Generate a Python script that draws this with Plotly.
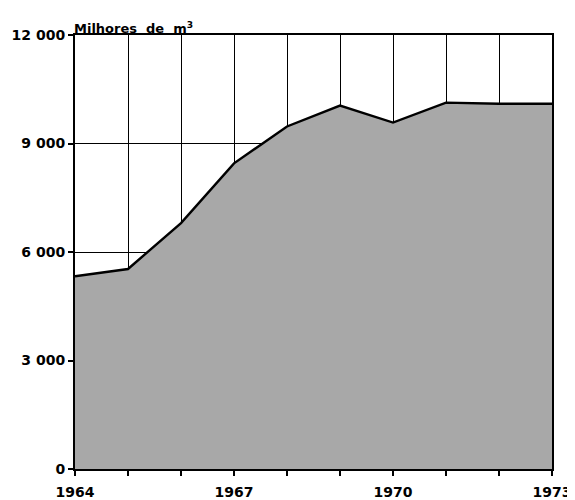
import plotly.graph_objects as go

years = [1964, 1965, 1966, 1967, 1968, 1969, 1970, 1971, 1972, 1973]
values = [5330, 5530, 6800, 8450, 9470, 10050, 9580, 10130, 10100, 10100]

x_tick_vals = [1964, 1967, 1970, 1973]
x_tick_text = ["1964", "1967", "1970", "1973"]
y_tick_vals = [0, 3000, 6000, 9000, 12000]
y_tick_text = ["0", "3 000", "6 000", "9 000", "12 000"]

FAM = "DejaVu Sans, Verdana, sans-serif"
tfont = dict(family=FAM, size=14, color="black", weight="bold")

# page body has ~8px default margin; compensate so the plot area lands where the reference has it
OFF = 8

fig = go.Figure()
fig.add_trace(go.Scatter(
    x=years, y=values, mode="lines", fill="tozeroy",
    fillcolor="#a8a8a8",
    line=dict(color="black", width=2.4),
    showlegend=False, hoverinfo="skip",
))

axis_common = dict(
    showgrid=True, gridcolor="black", gridwidth=1.3,
    showline=True, linecolor="black", linewidth=2, mirror=True,
    ticks="outside", ticklen=5, tickcolor="black", tickwidth=1.5,
    tickfont=tfont, zeroline=False, fixedrange=True, automargin=False,
)

fig.update_layout(
    width=575 - OFF, height=500 - OFF,
    margin=dict(l=75 - OFF, r=23, t=35 - OFF, b=31),
    paper_bgcolor="white", plot_bgcolor="white",
    font=dict(family=FAM, size=14, color="black"),
    xaxis=dict(range=[1964, 1973], tickmode="array", tickvals=x_tick_vals,
               ticktext=x_tick_text, ticklabelstandoff=4,
               minor=dict(tickmode="linear", tick0=1964, dtick=1, ticks="outside",
                          ticklen=5, tickcolor="black", tickwidth=1.5,
                          showgrid=True, gridcolor="black", gridwidth=1.3),
               **axis_common),
    yaxis=dict(range=[0, 12000], tickmode="array", tickvals=y_tick_vals,
               ticktext=y_tick_text, **axis_common),
    annotations=[dict(
        text="Milhores  de  m<sup>3</sup>",
        xref="paper", yref="paper", x=0.0, y=1.0, xanchor="left", yanchor="bottom",
        showarrow=False, font=dict(family=FAM, size=13, color="black", weight="bold"),
        xshift=-3, yshift=-3,
    )],
)

fig.write_html("out.html")
